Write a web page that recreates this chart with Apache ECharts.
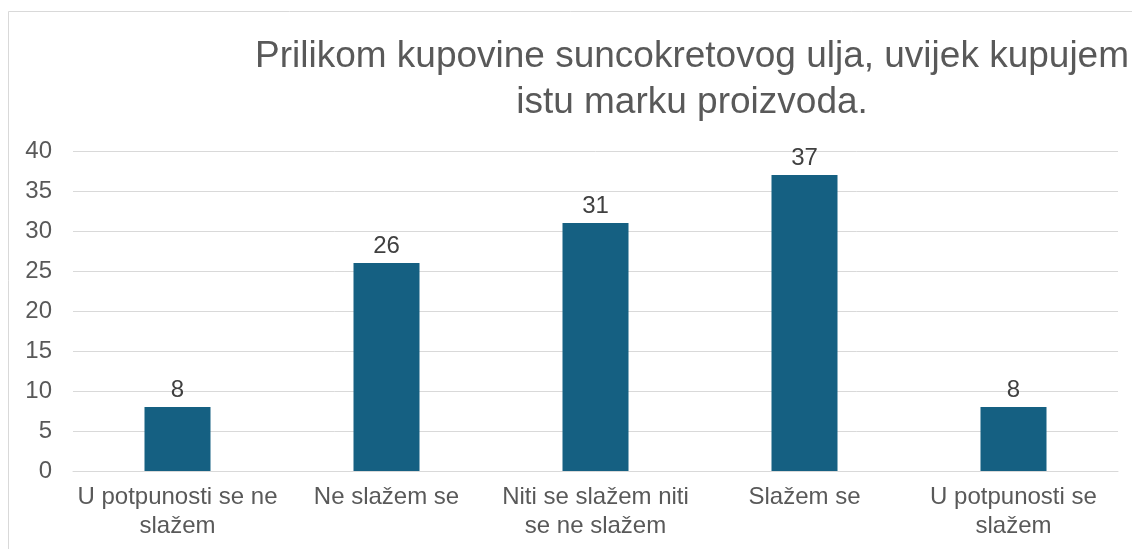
<!DOCTYPE html>
<html>
<head>
<meta charset="utf-8">
<script src="https://cdn.jsdelivr.net/npm/echarts@6/dist/echarts.min.js"></script>
<style>
  html, body { margin: 0; padding: 0; background: #fff; }
  #main { width: 1132px; height: 549px; }
</style>
</head>
<body>
<div id="main"></div>
<script>
// podaci
var categories = ['U potpunosti se ne\nslažem', 'Ne slažem se', 'Niti se slažem niti\nse ne slažem', 'Slažem se', 'U potpunosti se\nslažem'];
var values = [8, 26, 31, 37, 8];
var titleText = 'Prilikom kupovine suncokretovog ulja, uvijek kupujem\nistu marku proizvoda.';

var myChart = echarts.init(document.getElementById('main'));
var font = 'Liberation Sans, Arial, sans-serif';
var option = {
  backgroundColor: '#fff',
  animation: false,
  graphic: [{
    type: 'rect',
    shape: { x: 8.5, y: 11.5, width: 1300, height: 700 },
    style: { fill: 'none', stroke: '#d9d9d9', lineWidth: 1 },
    silent: true
  }],
  title: {
    text: titleText,
    left: 687,
    top: 29,
    textAlign: 'center',
    textStyle: {
      fontFamily: font,
      fontSize: 37,
      fontWeight: 'normal',
      color: '#595959',
      lineHeight: 46
    }
  },
  grid: { left: 73, right: 14, top: 151, bottom: 78 },
  xAxis: {
    type: 'category',
    data: categories,
    axisLine: { show: true, lineStyle: { color: '#d9d9d9', width: 1 } },
    axisTick: { show: false },
    axisLabel: {
      interval: 0,
      margin: 12,
      fontFamily: font,
      fontSize: 24,
      lineHeight: 29,
      color: '#595959'
    }
  },
  yAxis: {
    type: 'value',
    min: 0,
    max: 40,
    interval: 5,
    axisLine: { show: false },
    axisTick: { show: false },
    splitLine: { lineStyle: { color: '#d9d9d9', width: 1 } },
    axisLabel: {
      margin: 21,
      fontFamily: font,
      fontSize: 24,
      color: '#595959'
    }
  },
  series: [{
    type: 'bar',
    data: values,
    barWidth: 66,
    itemStyle: { color: '#156082' },
    label: {
      show: true,
      position: 'top',
      distance: 5,
      fontFamily: font,
      fontSize: 24,
      color: '#404040'
    }
  }]
};
myChart.setOption(option);
</script>
</body>
</html>
